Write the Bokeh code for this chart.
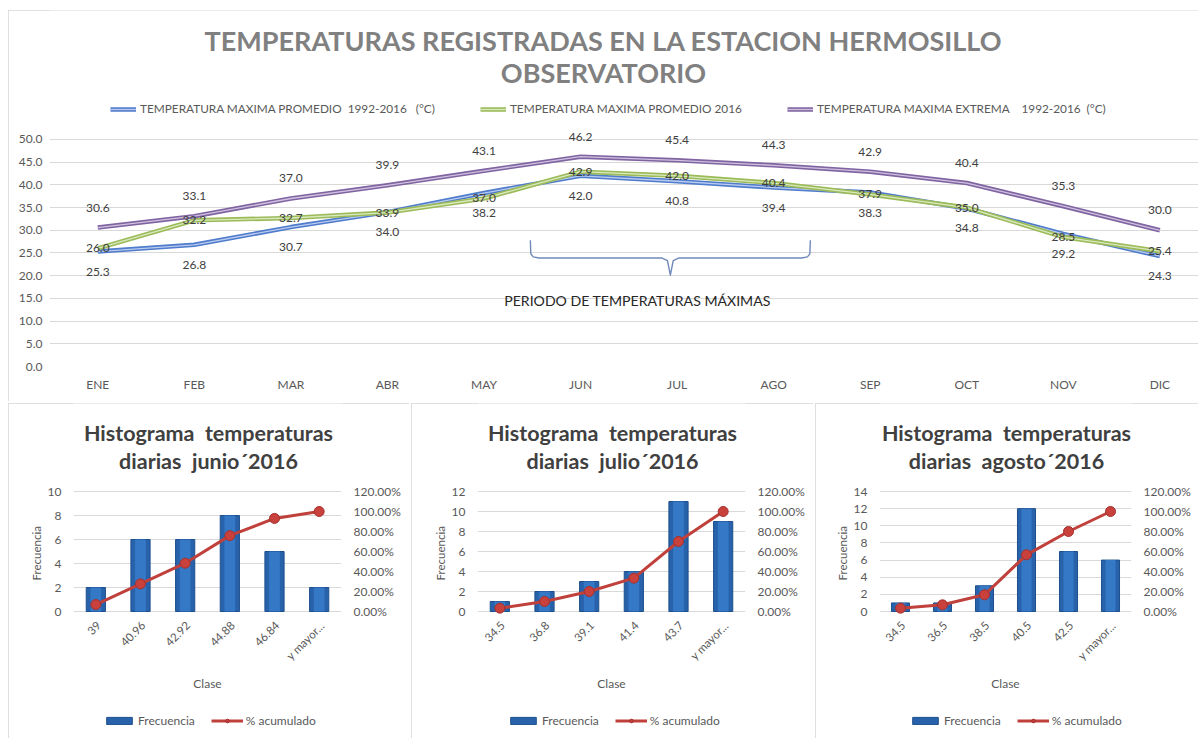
import math
from bokeh.plotting import figure
from bokeh.models import (ColumnDataSource, Label, Legend, LegendItem, LinearAxis, Range1d,
                          FixedTicker, NumeralTickFormatter, FactorRange, Spacer)
from bokeh.layouts import column, row
from bokeh.embed import file_html
from bokeh.resources import INLINE
from bokeh.core.properties import value

NB = "\u00a0"

# ---------------- data ----------------
months = ["ENE", "FEB", "MAR", "ABR", "MAY", "JUN", "JUL", "AGO", "SEP", "OCT", "NOV", "DIC"]
prom_1992_2016 = [25.3, 26.8, 30.7, 34.0, 38.2, 42.0, 40.8, 39.4, 38.3, 34.8, 29.2, 24.3]
prom_2016 = [26.0, 32.2, 32.7, 33.9, 37.0, 42.9, 42.0, 40.4, 37.9, 35.0, 28.5, 25.4]
extrema_1992_2016 = [30.6, 33.1, 37.0, 39.9, 43.1, 46.2, 45.4, 44.3, 42.9, 40.4, 35.3, 30.0]
series_names = ["TEMPERATURA MAXIMA PROMEDIO" + NB + " 1992-2016" + NB + NB + " (°C)",
                "TEMPERATURA MAXIMA PROMEDIO 2016",
                "TEMPERATURA MAXIMA EXTREMA" + NB + NB + NB + " 1992-2016" + NB + " (°C)"]
periodo_meses = ["JUN", "JUL", "AGO"]

jun_clase = ["39", "40.96", "42.92", "44.88", "46.84", "y mayor..."]
jun_freq = [2, 6, 6, 8, 5, 2]
jun_acum = [0.0690, 0.2759, 0.4828, 0.7586, 0.9310, 1.0]
jul_clase = ["34.5", "36.8", "39.1", "41.4", "43.7", "y mayor..."]
jul_freq = [1, 2, 3, 4, 11, 9]
jul_acum = [0.0333, 0.1000, 0.2000, 0.3333, 0.7000, 1.0]
ago_clase = ["34.5", "36.5", "38.5", "40.5", "42.5", "y mayor..."]
ago_freq = [1, 1, 3, 12, 7, 6]
ago_acum = [0.0333, 0.0667, 0.1667, 0.5667, 0.8000, 1.0]
pct_ticks = [0, 0.2, 0.4, 0.6, 0.8, 1.0, 1.2]

FONT = "Lato"
GRID = "#d9d9d9"
TXT = "#595959"
BORDER = {"outline": "1px solid #d4d4d4", "outline-offset": "-1px"}


def style_axis(ax, size="12px"):
    ax.axis_line_color = None
    ax.major_tick_line_color = None
    ax.minor_tick_line_color = None
    ax.major_tick_out = 0
    ax.major_tick_in = 0
    ax.minor_tick_out = 0
    ax.minor_tick_in = 0
    ax.major_label_text_font = FONT
    ax.major_label_text_font_size = size
    ax.major_label_text_color = TXT


# ---------------- top chart ----------------
# the frame spans the whole height of the panel so that title and legend sit inside it;
# ticks and grid lines stop at 50
top = figure(width=1190, height=391, x_range=Range1d(-0.5, 11.4), y_range=Range1d(0, 78.4),
             output_backend="svg", toolbar_location=None,
             min_border_left=41, min_border_right=0, min_border_top=0, min_border_bottom=35)
top.outline_line_color = None
top.xgrid.grid_line_color = None
top.ygrid.grid_line_color = GRID
top.styles = BORDER

idx = list(range(len(months)))
top.xaxis.ticker = FixedTicker(ticks=idx)
top.xaxis.major_label_overrides = {i: m for i, m in enumerate(months)}
top.xaxis.major_label_standoff = 10
top.yaxis.ticker = FixedTicker(ticks=list(range(0, 51, 5)))
top.yaxis.formatter = NumeralTickFormatter(format="0.0")
top.yaxis.major_label_standoff = 7
style_axis(top.xaxis)
style_axis(top.yaxis)

specs = [
    (prom_1992_2016, "#4f7ccc", "#b9cbef", 20),
    (prom_2016, "#9bbb59", "#dbe9bf", 0),
    (extrema_1992_2016, "#8064a2", "#cfc2e0", -20),
]
items = []
for (vals, c_out, c_in, off), name in zip(specs, series_names):
    src = ColumnDataSource(dict(x=idx, y=vals))
    r1 = top.line("x", "y", source=src, line_color=c_out, line_width=4.5, line_join="round")
    r2 = top.line("x", "y", source=src, line_color=c_in, line_width=1.3, line_join="round")
    items.append(LegendItem(label=name, renderers=[r1, r2]))
for (vals, c_out, c_in, off) in specs:
    src = ColumnDataSource(dict(x=idx, y=vals, lbl=["%.1f" % v for v in vals]))
    top.text("x", "y", text="lbl", source=src, y_offset=off, text_align="center",
             text_baseline="middle", text_font=value(FONT), text_font_size="12px",
             text_color="#404040")

# brace marking the period of maximum temperatures
i0 = months.index(periodo_meses[0]) - 0.52
i1 = months.index(periodo_meses[-1]) + 0.38
im = (i0 + i1) / 2
yt, yh, ytip = 27.8, 23.9, 20.1
bx = [i0, i0 + 0.005, i0 + 0.03, i0 + 0.09, im - 0.09, im - 0.03, im, im + 0.03, im + 0.09,
      i1 - 0.09, i1 - 0.03, i1 - 0.005, i1]
by = [yt, yh + 0.9, yh + 0.25, yh, yh, yh - 0.6, ytip, yh - 0.6, yh, yh, yh + 0.25, yh + 0.9, yt]
top.line(bx, by, line_color="#7089bb", line_width=1.4, line_join="round")
top.text([im - 0.34], [14.6], text=["PERIODO DE TEMPERATURAS MÁXIMAS"], text_align="center",
         text_baseline="middle", text_font=value(FONT), text_font_size="14.1px",
         text_color="#262626")

leg = Legend(items=items, orientation="horizontal", location=(61, 250), padding=0, margin=0,
             spacing=45, glyph_width=26, glyph_height=12, label_height=12, label_standoff=4,
             label_text_font=FONT, label_text_font_size="11.8px", label_text_color=TXT,
             border_line_color=None, background_fill_alpha=0)
top.add_layout(leg, "center")

for txt, y in [("TEMPERATURAS REGISTRADAS EN LA ESTACION HERMOSILLO", 326), ("OBSERVATORIO", 294)]:
    top.add_layout(Label(x=554, y=y, x_units="screen", y_units="screen", text=txt,
                         text_align="center", text_baseline="middle", text_font=FONT,
                         text_font_style="bold", text_font_size="27px", text_color="#808080"))


# ---------------- histograms ----------------
H = 335          # panel height
Y0 = 208         # pixel row (from panel top) of value 0
YTOP = 88        # pixel row of the top tick


def histogram(mes, clases, freq, acum, ymax, width, left, fw):
    right = width - left - fw
    k = (Y0 - YTOP) / ymax                 # px per unit on the left scale
    kp = (Y0 - YTOP) / 1.2
    p = figure(width=width, height=H, x_range=FactorRange(*clases),
               y_range=Range1d(-(H - Y0) / k, Y0 / k),
               output_backend="svg", toolbar_location=None, x_axis_location=None,
               min_border_left=left, min_border_right=right, min_border_top=0, min_border_bottom=0)
    p.outline_line_color = None
    p.xgrid.grid_line_color = None
    p.ygrid.grid_line_color = GRID
    p.styles = BORDER
    p.extra_y_ranges = {"pct": Range1d(-(H - Y0) / kp, Y0 / kp)}

    p.yaxis.ticker = FixedTicker(ticks=list(range(0, ymax + 1, 2)))
    p.yaxis.major_label_standoff = 12
    # leading no-break spaces lift the visible word to the middle of the 0..max span
    p.yaxis.axis_label = NB * 12 + "Frecuencia"
    p.yaxis.axis_label_standoff = 2
    p.yaxis.axis_label_text_font = FONT
    p.yaxis.axis_label_text_font_size = "11.5px"
    p.yaxis.axis_label_text_font_style = "normal"
    p.yaxis.axis_label_text_color = TXT
    style_axis(p.yaxis)

    ra = LinearAxis(y_range_name="pct", ticker=FixedTicker(ticks=pct_ticks),
                    formatter=NumeralTickFormatter(format="0.00%"))
    style_axis(ra)
    ra.major_label_standoff = 12
    p.add_layout(ra, "right")

    src = ColumnDataSource(dict(x=clases, f=freq, a=acum, z=[0] * len(clases)))
    rb = p.vbar(x="x", top="f", width=0.43, source=src, fill_color="#2862ab",
                line_color="#1d4f8c", line_width=1)
    p.vbar(x="x", top="f", width=0.24, source=src, fill_color="#3579c6", line_color=None)
    rl = p.line("x", "a", source=src, y_range_name="pct", line_color="#c0403c", line_width=3)
    rm = p.scatter("x", "a", source=src, y_range_name="pct", size=10, fill_color="#c8413d",
                   line_color="#a32f2c", line_width=1)

    # category labels, rotated like the reference
    p.text("x", "z", text="x", source=src, angle=math.pi / 4, x_offset=3, y_offset=12,
           text_align="right", text_baseline="middle", text_font=value(FONT),
           text_font_size="11.5px", text_color=TXT)

    p.add_layout(Label(x=fw / 2, y=H - 280, x_units="screen", y_units="screen", text="Clase",
                       text_align="center", text_baseline="middle", text_font=FONT,
                       text_font_size="12px", text_color=TXT))

    leg = Legend(items=[LegendItem(label="Frecuencia", renderers=[rb]),
                        LegendItem(label="% acumulado", renderers=[rl, rm])],
                 orientation="horizontal", location=(30, 10), padding=0, margin=0,
                 spacing=16, glyph_width=32, glyph_height=9, label_height=12, label_standoff=3,
                 label_text_font=FONT, label_text_font_size="12px", label_text_color=TXT,
                 border_line_color=None, background_fill_alpha=0)
    p.add_layout(leg, "center")

    for txt, ry in [("Histograma" + NB + " temperaturas", 29), ("diarias" + NB + " " + mes + "´2016", 57)]:
        p.add_layout(Label(x=fw / 2 + 1, y=H - ry, x_units="screen", y_units="screen", text=txt,
                           text_align="center", text_baseline="middle", text_font=FONT,
                           text_font_style="bold", text_font_size="21.5px", text_color="#404040"))
    return p


h1 = histogram("junio", jun_clase, jun_freq, jun_acum, 10, 401, 65, 268)
h2 = histogram("julio", jul_clase, jul_freq, jul_acum, 12, 402, 66, 268)
h3 = histogram("agosto", ago_clase, ago_freq, ago_acum, 14, 383, 64, 252)

layout = column(Spacer(height=8),
                row(Spacer(width=6), top, spacing=2),
                row(Spacer(width=6), h1, h2, h3, spacing=2),
                spacing=2)
open("out.html", "w").write(file_html(layout, INLINE))
